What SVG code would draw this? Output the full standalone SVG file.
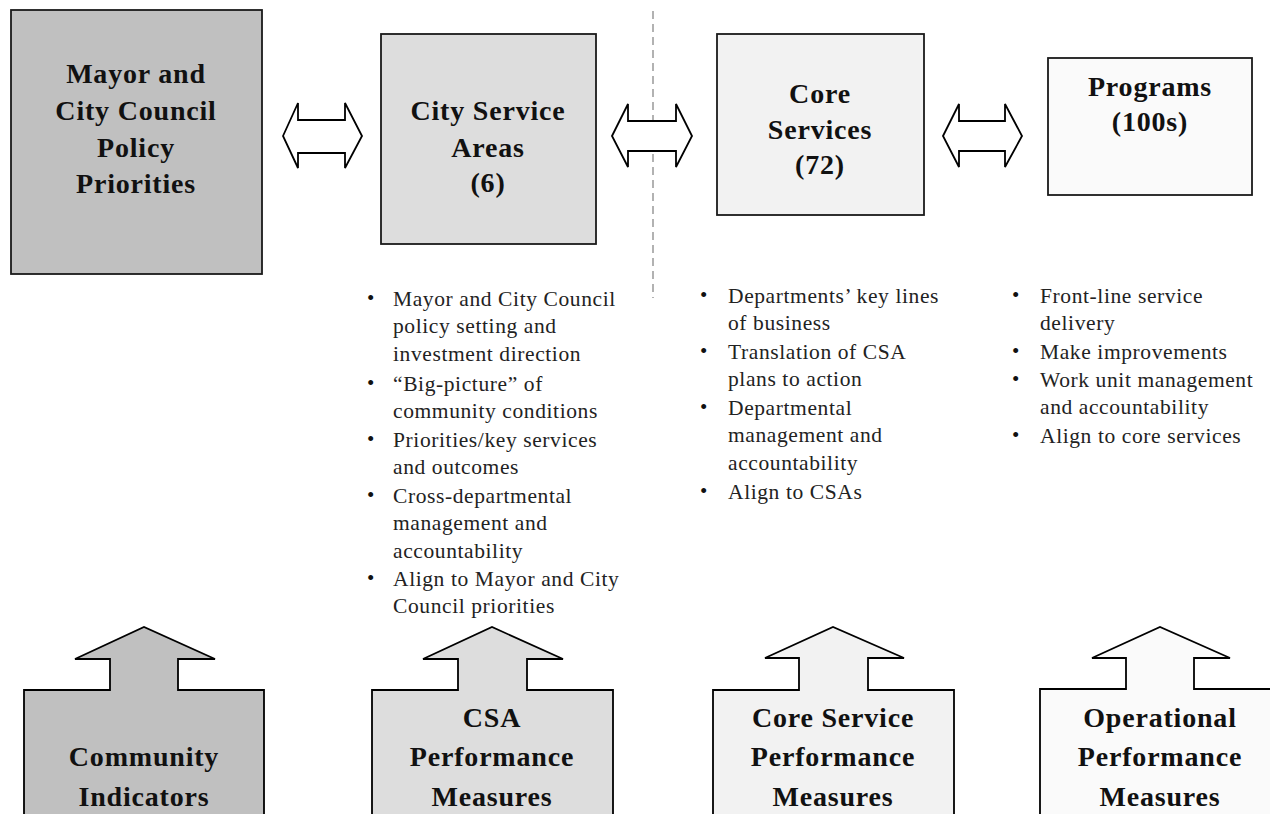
<svg xmlns="http://www.w3.org/2000/svg" width="1270" height="814" viewBox="0 0 1270 814">
<style>
.box{stroke:#1a1a1a;stroke-width:1.8}
.dbl{fill:#fff;stroke:#000;stroke-width:1.8;stroke-linejoin:miter}
.up{stroke:#000;stroke-width:1.8}
.t{font-family:"Liberation Serif","Times New Roman",serif;font-weight:bold;font-size:28px;letter-spacing:0.8px;fill:#111;text-anchor:middle}
.b{font-family:"Liberation Serif","Times New Roman",serif;font-size:21.5px;letter-spacing:0.6px;fill:#222}
.dot{font-family:"Liberation Serif","Times New Roman",serif;font-size:21px;fill:#111}
</style>
<rect width="1270" height="814" fill="#fff"/>
<g id="connectors">
<line x1="653" y1="11" x2="653" y2="298" stroke="#999" stroke-width="1.5" stroke-dasharray="8 5"/>
<path class="dbl" d="M283,136 L298,103 V120 H345 V103 L362,136 L345,168 V153 H298 V168 Z"/>
<path class="dbl" d="M612,136 L628,104 V121 H676 V104 L692,136 L676,167 V151 H628 V167 Z"/>
<path class="dbl" d="M943,136 L959,104 V121 H1005 V104 L1022,136 L1005,167 V151 H959 V167 Z"/>
</g>
<g id="mayor">
<rect class="box" x="11" y="10" width="251" height="264" fill="#c0c0c0"/>
<text class="t" x="136" y="83">Mayor and</text>
<text class="t" x="136" y="120">City Council</text>
<text class="t" x="136" y="157">Policy</text>
<text class="t" x="136" y="193">Priorities</text>
</g>
<g id="csa">
<rect class="box" x="381" y="34" width="215" height="210" fill="#dddddd"/>
<text class="t" x="488" y="120">City Service</text>
<text class="t" x="488" y="157">Areas</text>
<text class="t" x="488" y="192">(6)</text>
</g>
<g id="core">
<rect class="box" x="717" y="34" width="207" height="181" fill="#f2f2f2"/>
<text class="t" x="820" y="103">Core</text>
<text class="t" x="820" y="139">Services</text>
<text class="t" x="820" y="174">(72)</text>
</g>
<g id="programs">
<rect class="box" x="1048" y="58" width="204" height="137" fill="#fafafa"/>
<text class="t" x="1150" y="96">Programs</text>
<text class="t" x="1150" y="131">(100s)</text>
</g>
<g id="csa-bullets">
<text class="dot" x="367" y="305">•</text>
<text class="b" x="393" y="306">Mayor and City Council</text>
<text class="b" x="393" y="333">policy setting and</text>
<text class="b" x="393" y="361">investment direction</text>
<text class="dot" x="367" y="390">•</text>
<text class="b" x="393" y="391">“Big-picture” of</text>
<text class="b" x="393" y="418">community conditions</text>
<text class="dot" x="367" y="446">•</text>
<text class="b" x="393" y="447">Priorities/key services</text>
<text class="b" x="393" y="474">and outcomes</text>
<text class="dot" x="367" y="502">•</text>
<text class="b" x="393" y="503">Cross-departmental</text>
<text class="b" x="393" y="530">management and</text>
<text class="b" x="393" y="558">accountability</text>
<text class="dot" x="367" y="585">•</text>
<text class="b" x="393" y="586">Align to Mayor and City</text>
<text class="b" x="393" y="613">Council priorities</text>
</g>
<g id="core-bullets">
<text class="dot" x="700" y="302">•</text>
<text class="b" x="728" y="303">Departments’ key lines</text>
<text class="b" x="728" y="330">of business</text>
<text class="dot" x="700" y="358">•</text>
<text class="b" x="728" y="359">Translation of CSA</text>
<text class="b" x="728" y="386">plans to action</text>
<text class="dot" x="700" y="414">•</text>
<text class="b" x="728" y="415">Departmental</text>
<text class="b" x="728" y="442">management and</text>
<text class="b" x="728" y="470">accountability</text>
<text class="dot" x="700" y="498">•</text>
<text class="b" x="728" y="499">Align to CSAs</text>
</g>
<g id="program-bullets">
<text class="dot" x="1012" y="302">•</text>
<text class="b" x="1040" y="303">Front-line service</text>
<text class="b" x="1040" y="330">delivery</text>
<text class="dot" x="1012" y="358">•</text>
<text class="b" x="1040" y="359">Make improvements</text>
<text class="dot" x="1012" y="386">•</text>
<text class="b" x="1040" y="387">Work unit management</text>
<text class="b" x="1040" y="414">and accountability</text>
<text class="dot" x="1012" y="442">•</text>
<text class="b" x="1040" y="443">Align to core services</text>
</g>
<g id="community-indicators">
<path class="up" fill="#c0c0c0" d="M24,820 V690 H110 V659 H75 L144,627 L215,659 H178 V690 H264 V820 Z"/>
<text class="t" x="144" y="766">Community</text>
<text class="t" x="144" y="806">Indicators</text>
</g>
<g id="csa-measures">
<path class="up" fill="#dddddd" d="M372,820 V690 H458 V659 H423 L492,627 L563,659 H527 V690 H613 V820 Z"/>
<text class="t" x="492" y="727">CSA</text>
<text class="t" x="492" y="766">Performance</text>
<text class="t" x="492" y="806">Measures</text>
</g>
<g id="core-measures">
<path class="up" fill="#f2f2f2" d="M713,820 V690 H799 V658 H765 L833,627 L904,658 H868 V690 H954 V820 Z"/>
<text class="t" x="833" y="727">Core Service</text>
<text class="t" x="833" y="766">Performance</text>
<text class="t" x="833" y="806">Measures</text>
</g>
<g id="operational-measures">
<path class="up" fill="#fafafa" d="M1040,820 V689 H1126 V658 H1092 L1160,627 L1230,658 H1194 V689 H1280 V820 Z"/>
<text class="t" x="1160" y="727">Operational</text>
<text class="t" x="1160" y="766">Performance</text>
<text class="t" x="1160" y="806">Measures</text>
</g>
</svg>
